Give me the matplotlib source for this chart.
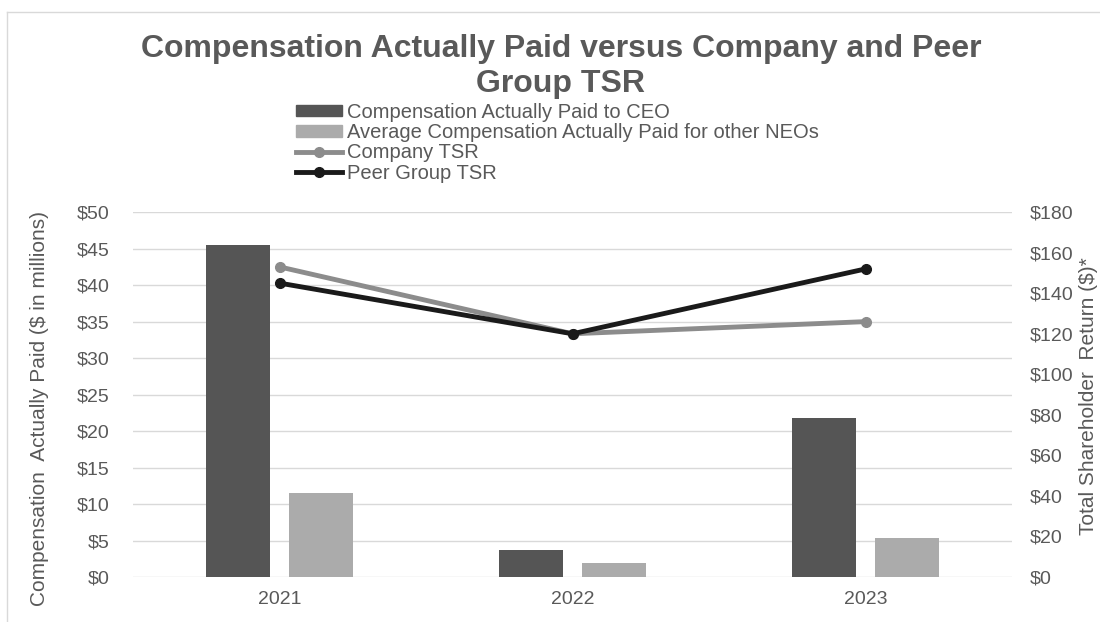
import numpy as np
import matplotlib
matplotlib.use('Agg')
import matplotlib.pyplot as plt
from matplotlib.lines import Line2D
from matplotlib.patches import Patch

plt.rcParams['font.family'] = ['Liberation Sans', 'DejaVu Sans']

# data
years = ['2021', '2022', '2023']
cap_ceo = [45.5, 3.7, 21.8]          # $ millions
cap_neo = [11.5, 1.9, 5.4]           # $ millions
company_tsr = [153, 120, 126]        # $
peer_tsr = [145, 120, 152]           # $
left_ticks = np.arange(0, 51, 5)
right_ticks = np.arange(0, 181, 20)

txt = '#595959'
c_ceo = '#555555'
c_neo = '#ababab'
c_comp = '#8c8c8c'
c_peer = '#1a1a1a'

fig = plt.figure(figsize=(11, 6.22), dpi=100)
ax = fig.add_axes([0.121, 0.0723, 0.799, 0.5866])
ax2 = ax.twinx()

x = np.arange(len(years))
w = 0.22
ax.bar(x - 0.142, cap_ceo, w, color=c_ceo, zorder=3)
ax.bar(x + 0.142, cap_neo, w, color=c_neo, zorder=3)

ax2.plot(x, company_tsr, color=c_comp, lw=3.5, marker='o', ms=7, zorder=4)
ax2.plot(x, peer_tsr, color=c_peer, lw=3.5, marker='o', ms=7, zorder=5)

ax.set_xlim(-0.5, 2.5)
ax.set_ylim(0, 50)
ax2.set_ylim(0, 180)
ax.set_yticks(left_ticks)
ax.set_yticklabels([f'${v}' for v in left_ticks])
ax2.set_yticks(right_ticks)
ax2.set_yticklabels([f'${v}' for v in right_ticks])
ax.set_xticks(x)
ax.set_xticklabels(years)

ax.grid(axis='y', color='#d9d9d9', lw=1, zorder=0)
ax.set_axisbelow(True)
for a in (ax, ax2):
    for s in a.spines.values():
        s.set_visible(False)
    a.tick_params(length=0, labelsize=14, colors=txt)
ax.tick_params(axis='y', pad=17)
ax2.tick_params(axis='y', pad=13)
ax.tick_params(axis='x', pad=10)

ax.set_ylabel('Compensation  Actually Paid ($ in millions)', fontsize=15, color=txt)
ax.yaxis.set_label_coords(-0.096, 0.463)
fig.text(0.981, 0.363, 'Total Shareholder  Return ($)*', rotation=90, fontsize=15,
         color=txt, ha='left', va='center')

fig.text(0.51, 1 - 57 / 622, 'Compensation Actually Paid versus Company and Peer',
         ha='center', va='baseline', fontsize=23, fontweight='bold', color=txt)
fig.text(0.51, 1 - 92 / 622, 'Group TSR',
         ha='center', va='baseline', fontsize=23, fontweight='bold', color=txt)

handles = [Patch(color=c_ceo), Patch(color=c_neo),
           Line2D([], [], color=c_comp, lw=3.5, marker='o', ms=7),
           Line2D([], [], color=c_peer, lw=3.5, marker='o', ms=7)]
labels = ['Compensation Actually Paid to CEO',
          'Average Compensation Actually Paid for other NEOs',
          'Company TSR', 'Peer Group TSR']
leg = fig.legend(handles, labels, loc='upper left', bbox_to_anchor=(0.269, 0.835),
                 frameon=False, fontsize=14.5, handlelength=2.3, handleheight=0.5,
                 handletextpad=0.25, labelspacing=0.07, borderpad=0, borderaxespad=0)
for t in leg.get_texts():
    t.set_color(txt)

# faint chart frame
fig.add_artist(Line2D([0.006, 1], [0.981, 0.981], color='#d9d9d9', lw=1))
fig.add_artist(Line2D([0.006, 0.006], [0, 0.981], color='#d9d9d9', lw=1))

fig.savefig('out.png', dpi=100)
